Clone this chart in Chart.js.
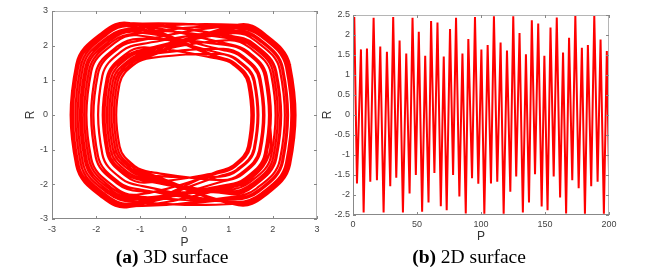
<!DOCTYPE html>
<html>
<head>
<meta charset="utf-8">
<script src="https://cdn.jsdelivr.net/npm/chart.js@4.4.1/dist/chart.umd.min.js"></script>
<style>
    body { margin: 0; background: #fff; width: 654px; height: 277px; position: relative; overflow: hidden; }
    canvas { position: absolute; top: 0; }
    #left-chart { left: 0; }
    #right-chart { left: 320px; }
    .caption {
        position: absolute; top: 246px; width: 200px; text-align: center;
        font-family: "Liberation Serif", "Times New Roman", serif; font-size: 19.5px; line-height: 22px; color: #000;
    }
</style>
</head>
<body>
<canvas id="left-chart" width="325" height="250"></canvas>
<canvas id="right-chart" width="334" height="250"></canvas>
<div class="caption" style="left:72px;"><b>(a)</b> 3D surface</div>
<div class="caption" style="left:369px;"><b>(b)</b> 2D surface</div>
<script>
// (a) phase portrait R against P, one row per turn of the orbit
const loopP = [
    [2.40, 1.81, 1.23, -0.78, -1.15, -1.52, -1.52, -1.15, -0.78, 1.21, 1.79, 2.37],
    [2.37, 1.79, 1.21, -1.0, -1.48, -1.96, -1.96, -1.48, -1.0, 1.18, 1.74, 2.30],
    [2.30, 1.74, 1.18, -1.24, -1.84, -2.43, -2.43, -1.84, -1.24, 1.1, 1.63, 2.16],
    [2.16, 1.63, 1.1, -0.85, -1.26, -1.67, -1.67, -1.26, -0.85, 1.03, 1.52, 2.01],
    [2.01, 1.52, 1.03, -1.15, -1.70, -2.25, -2.25, -1.70, -1.15, 0.95, 1.41, 1.86],
    [1.86, 1.41, 0.95, -1.23, -1.81, -2.40, -2.40, -1.81, -1.23, 0.88, 1.30, 1.72],
    [1.72, 1.30, 0.88, -0.8, -1.18, -1.57, -1.57, -1.18, -0.8, 0.81, 1.20, 1.59],
    [1.59, 1.20, 0.81, -1.08, -1.59, -2.11, -2.11, -1.59, -1.08, 0.76, 1.12, 1.49],
    [1.49, 1.12, 0.76, -1.25, -1.85, -2.45, -2.45, -1.85, -1.25, 0.74, 1.09, 1.44],
    [1.44, 1.09, 0.74, -0.9, -1.33, -1.76, -1.76, -1.33, -0.9, 0.75, 1.11, 1.47],
    [1.47, 1.11, 0.75, -1.2, -1.78, -2.35, -2.35, -1.78, -1.2, 0.8, 1.18, 1.57],
    [1.57, 1.18, 0.8, -0.75, -1.11, -1.47, -1.47, -1.11, -0.75, 0.86, 1.27, 1.69],
    [1.69, 1.27, 0.86, -1.13, -1.67, -2.21, -2.21, -1.67, -1.13, 0.93, 1.38, 1.82],
    [1.82, 1.38, 0.93, -1.03, -1.52, -2.01, -2.01, -1.52, -1.03, 1.0, 1.48, 1.96],
    [1.96, 1.48, 1.0, -0.83, -1.22, -1.62, -1.62, -1.22, -0.83, 1.06, 1.57, 2.08],
    [2.08, 1.57, 1.06, -1.23, -1.81, -2.40, -2.40, -1.81, -1.23, 1.13, 1.67, 2.21],
    [2.21, 1.67, 1.13, -0.95, -1.41, -1.86, -1.86, -1.41, -0.95, 1.18, 1.75, 2.31],
    [2.31, 1.75, 1.18, -0.8, -1.18, -1.57, -1.57, -1.18, -0.8, 1.22, 1.81, 2.39],
    [2.39, 1.81, 1.22, -1.18, -1.74, -2.30, -2.30, -1.74, -1.18, 1.2, 1.78, 2.35],
    [2.35, 1.78, 1.2, -1.1, -1.63, -2.16, -2.16, -1.63, -1.1, 1.14, 1.69, 2.23],
    [2.23, 1.69, 1.14, -0.88, -1.30, -1.72, -1.72, -1.30, -0.88, 1.05, 1.55, 2.06],
    [2.06, 1.55, 1.05, -1.25, -1.85, -2.45, -2.45, -1.85, -1.25, 0.98, 1.44, 1.91],
    [1.93]
];
const loopR = [
    [1.44, 2.35, 2.61, 1.70, 1.53, 0.94, -0.94, -1.53, -1.70, -2.58, -2.32, -1.42],
    [1.42, 2.32, 2.58, 2.15, 1.94, 1.18, -1.18, -1.94, -2.15, -2.51, -2.26, -1.38],
    [1.38, 2.26, 2.51, 2.63, 2.37, 1.45, -1.45, -2.37, -2.63, -2.36, -2.12, -1.30],
    [1.30, 2.12, 2.36, 1.85, 1.67, 1.02, -1.02, -1.67, -1.85, -2.21, -1.99, -1.22],
    [1.22, 1.99, 2.21, 2.45, 2.21, 1.35, -1.35, -2.21, -2.45, -2.06, -1.85, -1.13],
    [1.13, 1.85, 2.06, 2.60, 2.34, 1.43, -1.43, -2.34, -2.60, -1.91, -1.72, -1.05],
    [1.05, 1.72, 1.91, 1.75, 1.58, 0.96, -0.96, -1.58, -1.75, -1.78, -1.60, -0.98],
    [0.98, 1.60, 1.78, 2.30, 2.07, 1.27, -1.27, -2.07, -2.30, -1.68, -1.51, -0.92],
    [0.92, 1.51, 1.68, 2.65, 2.39, 1.46, -1.46, -2.39, -2.65, -1.63, -1.47, -0.90],
    [0.90, 1.47, 1.63, 1.95, 1.76, 1.07, -1.07, -1.76, -1.95, -1.66, -1.49, -0.91],
    [0.91, 1.49, 1.66, 2.55, 2.30, 1.40, -1.40, -2.30, -2.55, -1.76, -1.58, -0.97],
    [0.97, 1.58, 1.76, 1.65, 1.49, 0.91, -0.91, -1.49, -1.65, -1.88, -1.69, -1.03],
    [1.03, 1.69, 1.88, 2.40, 2.16, 1.32, -1.32, -2.16, -2.40, -2.02, -1.82, -1.11],
    [1.11, 1.82, 2.02, 2.20, 1.98, 1.21, -1.21, -1.98, -2.20, -2.16, -1.94, -1.19],
    [1.19, 1.94, 2.16, 1.80, 1.62, 0.99, -0.99, -1.62, -1.80, -2.28, -2.05, -1.25],
    [1.25, 2.05, 2.28, 2.60, 2.34, 1.43, -1.43, -2.34, -2.60, -2.41, -2.17, -1.33],
    [1.33, 2.17, 2.41, 2.05, 1.85, 1.13, -1.13, -1.85, -2.05, -2.52, -2.27, -1.39],
    [1.39, 2.27, 2.52, 1.75, 1.58, 0.96, -0.96, -1.58, -1.75, -2.60, -2.34, -1.43],
    [1.43, 2.34, 2.60, 2.50, 2.25, 1.38, -1.38, -2.25, -2.50, -2.56, -2.30, -1.41],
    [1.41, 2.30, 2.56, 2.35, 2.12, 1.29, -1.29, -2.12, -2.35, -2.44, -2.20, -1.34],
    [1.34, 2.20, 2.44, 1.90, 1.71, 1.05, -1.05, -1.71, -1.90, -2.26, -2.03, -1.24],
    [1.24, 2.03, 2.26, 2.65, 2.39, 1.46, -1.46, -2.39, -2.65, -2.11, -1.90, -1.16],
    [0]
];

// (b) R against P (0..200), peaks and troughs
const seriesP = [0, 1.0, 3.1, 6.2, 8.3, 10.9, 13.5, 16.1, 18.7, 21.3, 23.9, 26.5, 29.1, 31.4, 33.8,
    36.4, 39.0, 41.6, 44.2, 46.5, 49.1, 51.4, 54.0, 56.4, 59.0, 61.0, 63.6, 66.0, 68.6, 70.9,
    73.2, 75.8, 78.2, 80.5, 83.1, 85.5, 88.1, 90.1, 93.0, 95.3, 97.9, 100.3, 102.6, 105.2, 107.8,
    110.1, 112.7, 115.3, 117.7, 120.3, 122.9, 125.2, 127.5, 130.1, 132.7, 135.1, 137.5, 139.7,
    142.2, 144.7, 147.4, 149.5, 152.0, 154.3, 156.8, 159.2, 161.8, 164.1, 166.5, 168.8, 171.3,
    173.7, 176.3, 178.8, 181.2, 183.5, 186.1, 188.5, 191.1, 193.4, 196.0, 198.3, 200];
const seriesR = [2.2, 2.45, -1.71, 1.64, -2.44, 1.66, -1.67, 2.43, -1.63, 1.71, -2.44, 1.58, -1.78, 2.45, -1.57,
    1.86, -2.44, 1.54, -1.96, 2.43, -1.5, 2.08, -2.42, 1.48, -2.19, 2.35, -1.45, 2.31, -2.28, 1.46,
    -2.38, 2.15, -1.5, 2.43, -2.04, 1.54, -2.46, 1.9, -1.58, 2.45, -1.72, 1.64, -2.47, 1.75, -1.71,
    2.47, -1.67, 1.81, -2.47, 1.61, -1.92, 2.47, -1.54, 2.05, -2.44, 1.52, -2.19, 2.37,
    -1.48, 2.29, -2.29, 1.48, -2.38, 2.19, -1.54, 2.44, -2.06, 1.56, -2.46, 1.93, -1.63,
    2.49, -1.83, 1.68, -2.47, 1.75, -1.78, 2.49, -1.67, 1.89, -2.47, 1.6, -1.42];

const leftTicks = [-3, -2, -1, 0, 1, 2, 3];
const rightXTicks = [0, 50, 100, 150, 200];
const rightYTicks = [-2.5, -2, -1.5, -1, -0.5, 0, 0.5, 1, 1.5, 2, 2.5];

const lineRed = '#ff0000';
const tickFont = { family: 'Liberation Sans', size: 9 };
const titleFont = { family: 'Liberation Sans', size: 12 };

// MATLAB style box with inward tick marks
const boxPlugin = {
    id: 'box',
    afterDatasetsDraw(chart) {
        const { ctx, chartArea: a, scales } = chart;
        ctx.save();
        ctx.lineWidth = 1;
        ctx.strokeStyle = '#b5b5b5';
        ctx.beginPath();
        ctx.moveTo(a.left, a.top + 0.5);
        ctx.lineTo(a.right - 0.5, a.top + 0.5);
        ctx.lineTo(a.right - 0.5, a.bottom);
        ctx.stroke();
        ctx.strokeStyle = '#888';
        ctx.beginPath();
        ctx.moveTo(a.left + 0.5, a.top);
        ctx.lineTo(a.left + 0.5, a.bottom - 0.5);
        ctx.lineTo(a.right, a.bottom - 0.5);
        ctx.stroke();
        ctx.beginPath();
        scales.x.ticks.forEach(t => {
            const px = Math.round(scales.x.getPixelForValue(t.value)) + 0.5;
            ctx.moveTo(px, a.bottom); ctx.lineTo(px, a.bottom - 3);
            ctx.moveTo(px, a.top); ctx.lineTo(px, a.top + 3);
        });
        scales.y.ticks.forEach(t => {
            const py = Math.round(scales.y.getPixelForValue(t.value)) + 0.5;
            ctx.moveTo(a.left, py); ctx.lineTo(a.left + 3, py);
            ctx.moveTo(a.right, py); ctx.lineTo(a.right - 3, py);
        });
        ctx.stroke();
        ctx.restore();
    }
};

function axis(ticks, step, size, title, titlePad, labelPad) {
    return {
        type: 'linear', min: ticks[0], max: ticks[ticks.length - 1],
        grid: { display: false, drawTicks: false }, border: { display: false },
        ticks: {
            stepSize: step, font: tickFont, color: '#444', padding: labelPad,
            maxRotation: 0, autoSkip: false,
            callback: v => String(v)
        },
        title: { display: true, text: title, font: titleFont, color: '#333', padding: titlePad },
        afterFit: s => { if (s.isHorizontal()) s.height = size; else s.width = size; }
    };
}

let phasePoints = [];
loopP.forEach((row, i) => row.forEach((p, j) => phasePoints.push({ x: p, y: loopR[i][j] })));

new Chart(document.getElementById('left-chart'), {
    type: 'scatter',
    data: {
        datasets: [{
            data: phasePoints,
            showLine: true, tension: 0.4,
            borderColor: lineRed, borderWidth: 2.2,
            pointRadius: 0
        }]
    },
    options: {
        responsive: false, animation: false,
        layout: { padding: { top: 11, right: 8, left: 0, bottom: 0 } },
        plugins: { legend: { display: false }, tooltip: { enabled: false } },
        scales: {
            x: axis(leftTicks, 1, 31, 'P', { top: 0, bottom: 0 }, 5),
            y: axis(leftTicks, 1, 52, 'R', { top: 23, bottom: 0 }, 4)
        }
    },
    plugins: [boxPlugin]
});

new Chart(document.getElementById('right-chart'), {
    type: 'line',
    data: {
        datasets: [{
            data: seriesP.map((p, i) => ({ x: p, y: seriesR[i] })),
            tension: 0,
            borderColor: lineRed, borderWidth: 2,
            pointRadius: 0
        }]
    },
    options: {
        responsive: false, animation: false,
        layout: { padding: { top: 15, right: 45, left: 0, bottom: 0 } },
        plugins: { legend: { display: false }, tooltip: { enabled: false } },
        scales: {
            x: axis(rightXTicks, 50, 35, 'P', { top: 0, bottom: 6 }, 4),
            y: axis(rightYTicks, 0.5, 33, 'R', { top: 0, bottom: 0 }, 3)
        }
    },
    plugins: [boxPlugin]
});
</script>
</body>
</html>
